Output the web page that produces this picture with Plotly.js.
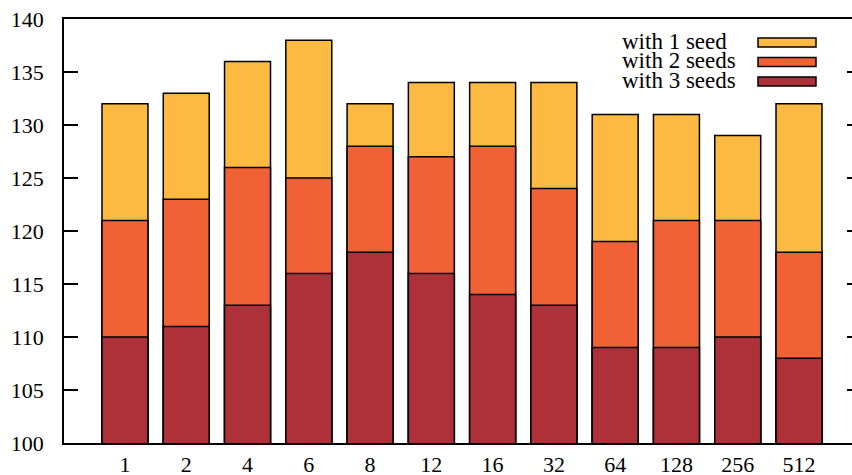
<!DOCTYPE html>
<html>
<head>
<meta charset="utf-8">
<script src="https://cdn.plot.ly/plotly-3.0.1.min.js"></script>
<style>html,body{margin:0;padding:0;background:#fff;overflow:hidden}</style>
</head>
<body>
<div id="chart" style="width:852px;height:475px"></div>
<script>
var categories = ["1","2","4","6","8","12","16","32","64","128","256","512"];
var seriesNames = ["with 1 seed","with 2 seeds","with 3 seeds"];
var seed1 = [132,133,136,138,132,134,134,134,131,131,129,132];
var seed2 = [121,123,126,125,128,127,128,124,119,121,121,118];
var seed3 = [110,111,113,116,118,116,114,113,109,109,110,108];
var colors = ["#fdba42","#f16136","#ae3039"];
var yTicks = [100,105,110,115,120,125,130,135,140];

var font = "'Liberation Serif', 'DejaVu Serif', serif";
var xIdx = categories.map(function(c,i){return i;});
var allSeries = [seed1, seed2, seed3];
var traces = allSeries.map(function(vals,k){
  return {
    type:"bar", x:xIdx, y:vals, name:seriesNames[k], width:0.75,
    marker:{color:colors[k], line:{color:"#000", width:1.5}},
    showlegend:false, hoverinfo:"none"
  };
});
// invisible trace to carry the mirrored right-hand tick marks
traces.push({type:"scatter", x:[xIdx[0]], y:[yTicks[0]], yaxis:"y2", mode:"none", showlegend:false, hoverinfo:"none"});

var shapes = [], annotations = [];
var legTop = 41, rowH = 19.5;
seriesNames.forEach(function(n,k){
  var yc = legTop + k*rowH;
  annotations.push({xref:"paper", yref:"paper", x:(620-64)/788, y:1-(yc-19)/424, xanchor:"left", yanchor:"middle",
    text:n, showarrow:false, font:{family:font, size:23, color:"#000"}});
  shapes.push({type:"rect", xref:"paper", yref:"paper", x0:(758-64)/788, x1:(816-64)/788,
    y0:1-(yc+1.5-4.5-19)/424, y1:1-(yc+1.5+4.5-19)/424, fillcolor:colors[k], line:{color:"#000", width:1.5}});
});

var layout = {
  width:852, height:475,
  margin:{l:64, r:0, t:19, b:32, pad:0},
  paper_bgcolor:"#fff", plot_bgcolor:"#fff",
  barmode:"overlay",
  font:{family:font, size:22, color:"#000"},
  xaxis:{range:[-0.995, 11.865], tickmode:"array", tickvals:xIdx, ticktext:categories,
    ticks:"", showgrid:false, zeroline:false, showline:true, linecolor:"#000", linewidth:1.8,
    mirror:true, tickfont:{family:font, size:22, color:"#000"}, ticklabelstandoff:1},
  yaxis:{range:[100,140], tickmode:"array", tickvals:yTicks, ticks:"inside", ticklen:14, tickwidth:1.5,
    tickcolor:"#000", showgrid:false, zeroline:false, showline:true, linecolor:"#000", linewidth:1.8,
    tickfont:{family:font, size:22, color:"#000"}, ticklabelstandoff:14},
  yaxis2:{range:[100,140], overlaying:"y", side:"right", tickmode:"array", tickvals:yTicks,
    ticks:"inside", ticklen:5, tickwidth:1.5, tickcolor:"#000", showticklabels:false,
    showgrid:false, zeroline:false, showline:false},
  shapes:shapes, annotations:annotations, showlegend:false
};
Plotly.newPlot("chart", traces, layout, {staticPlot:true, displayModeBar:false});
</script>
</body>
</html>
